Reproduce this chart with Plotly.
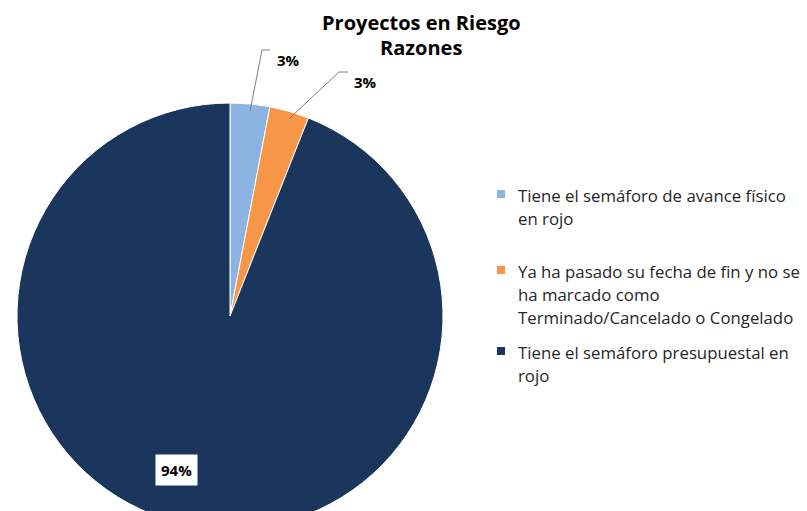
import math
import plotly.graph_objects as go

labels = [
    "Tiene el semáforo de avance físico<br>en rojo",
    "Ya ha pasado su fecha de fin y no se<br>ha marcado como<br>Terminado/Cancelado o Congelado",
    "Tiene el semáforo presupuestal en<br>rojo",
]
values = [3, 3, 94]
colors = ["#8DB3E2", "#F79646", "#1A365D"]
title_lines = ["Proyectos en Riesgo", "Razones"]

W, H = 807, 535
cx, cy, r = 230, 316, 213
FONT = "Open Sans"

fig = go.Figure()
fig.add_trace(go.Pie(
    labels=[l.replace("<br>", " ") for l in labels], values=values, sort=False,
    direction="clockwise", rotation=0,
    marker=dict(colors=colors, line=dict(color="white", width=1)),
    textinfo="none", hoverinfo="label+percent", showlegend=False,
    domain=dict(x=[(cx - r) / W, (cx + r) / W], y=[(H - cy - r) / H, (H - cy + r) / H]),
))

# invisible pixel-space axes for labels, leader lines and legend
fig.add_trace(go.Scatter(x=[0, W], y=[0, H], mode="markers", marker=dict(opacity=0),
                         showlegend=False, hoverinfo="skip"))

total = sum(values)
cum = 0
mids = []
for v in values:
    mids.append((cum + v / 2) / total * 2 * math.pi)
    cum += v
pcts = [f"{round(v / total * 100)}%" for v in values]

elbows = [(262, 50, 270), (339, 72, 348)]
text_pos = [(288, 60), (365, 82)]
shapes = []
annotations = []
for i in range(2):
    ex = cx + r * math.sin(mids[i])
    ey = cy - r * math.cos(mids[i]) + 7
    bx, by, hx = elbows[i]
    shapes.append(dict(type="path", xref="x", yref="y",
                       path=f"M{ex},{ey} L{bx},{by} L{hx},{by}",
                       line=dict(color="#7F7F7F", width=1)))
    annotations.append(dict(x=text_pos[i][0], y=text_pos[i][1], xref="x", yref="y",
                            text=f"<b>{pcts[i]}</b>", showarrow=False,
                            font=dict(family=FONT, size=15, color="#000000")))
annotations.append(dict(x=176, y=470, xref="x", yref="y", text=f"<b>{pcts[2]}</b>",
                        showarrow=False, bgcolor="white", borderpad=5,
                        font=dict(family=FONT, size=15, color="#000000")))
for k, line in enumerate(title_lines):
    annotations.append(dict(x=421, y=22 + 25 * k, xref="x", yref="y",
                            text=f"<b>{line}</b>", showarrow=False,
                            font=dict(family=FONT, size=20, color="#000000")))

# manual legend
item_y = [195, 271, 352]
line_h = 23
for i, lab in enumerate(labels):
    y0 = item_y[i]
    shapes.append(dict(type="rect", xref="x", yref="y", x0=497, x1=505, y0=y0 - 5, y1=y0 + 3,
                       fillcolor=colors[i], line=dict(width=0)))
    for j, part in enumerate(lab.split("<br>")):
        annotations.append(dict(x=516, y=y0 + j * line_h, xref="x", yref="y", text=part,
                                showarrow=False, xanchor="left", yanchor="middle",
                                font=dict(family=FONT, size=16.8, color="#262626")))

fig.update_layout(
    width=W, height=H, autosize=False,
    margin=dict(l=0, r=0, t=0, b=0),
    paper_bgcolor="white", plot_bgcolor="white",
    xaxis=dict(range=[0, W], visible=False, fixedrange=True, domain=[0, 1]),
    yaxis=dict(range=[H, 0], visible=False, fixedrange=True, domain=[0, 1]),
    shapes=shapes, annotations=annotations,
    showlegend=False,
)
fig.write_html("out.html", config={"displayModeBar": False},
               post_script="document.body.style.margin='0';document.body.style.overflow='hidden';document.documentElement.style.overflow='hidden';")
